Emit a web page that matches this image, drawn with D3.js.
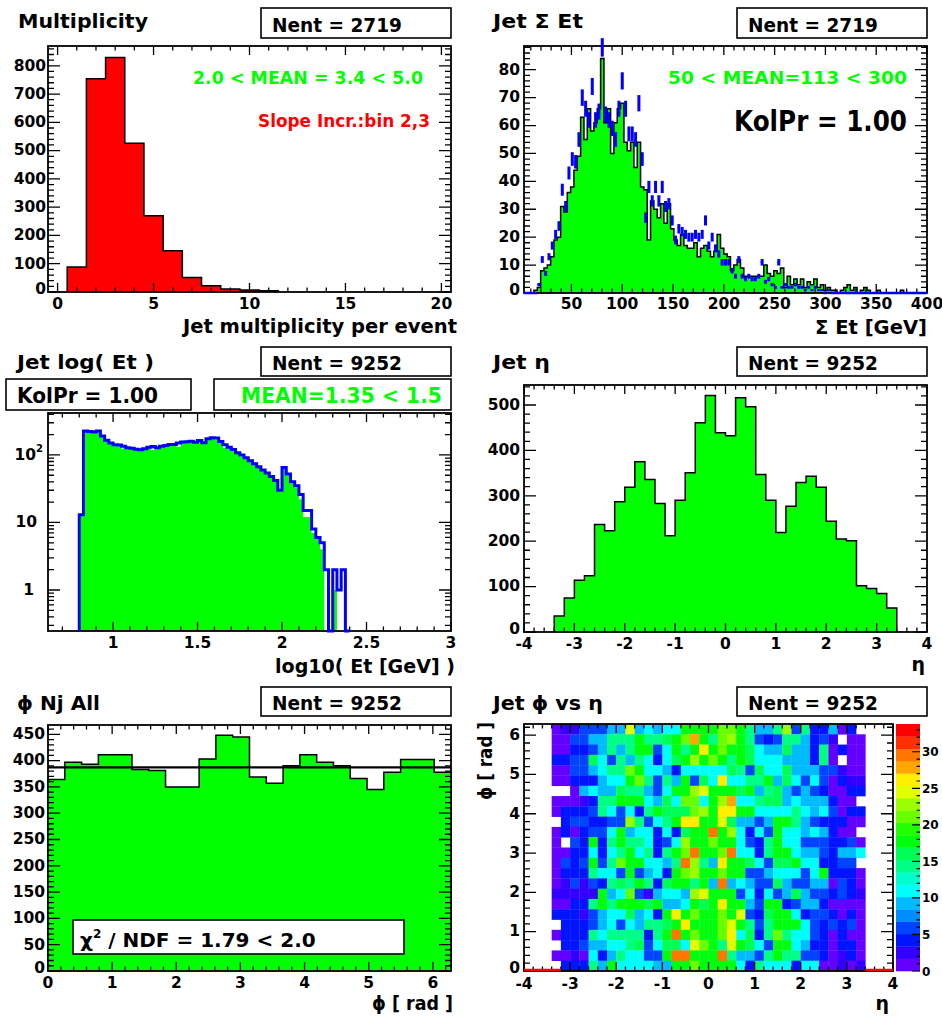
<!DOCTYPE html>
<html>
<head>
<meta charset="UTF-8">
<title>Jet monitoring histograms</title>
<style>
  body { margin: 0; background: #fff; }
  svg text { font-family: "DejaVu Sans", sans-serif; font-weight: bold; }
</style>
</head>
<body>
<script src="https://d3js.org/d3.v7.min.js"></script>
<script>
// ---- data ----

// jet multiplicity, one bin per integer 1..11
const multBins = [1, 2, 3, 4, 5, 6, 7, 8, 9, 10, 11];
const multCounts = [88, 754, 829, 526, 270, 146, 51, 22, 11, 7, 4];

// sum Et, 121 bins between 3.3 and 400 GeV
const etSumRange = [3.3, 400];
const etSumData = [
  0, 0, 0, 1, 2, 8, 9, 10, 13, 19,
  20, 31, 29, 36, 38, 44, 49, 63, 55, 66,
  58, 61, 66, 84, 61, 66, 50, 61, 66, 68,
  54, 51, 54, 45, 54, 38, 37, 19, 33, 30,
  27, 32, 25, 32, 23, 19, 17, 21, 17, 16,
  16, 18, 13, 16, 17, 15, 13, 15, 21, 16,
  14, 13, 8, 10, 12, 9, 6, 6, 6, 6,
  6, 6, 10, 7, 6, 8, 7, 9, 2, 6,
  3, 5, 3, 5, 2, 4, 3, 5, 2, 3,
  1, 2, 1, 1, 0, 1, 2, 3, 1, 2,
  0, 1, 2, 1, 0, 0, 1, 0, 0, 0,
  0, 0, 0, 1, 0, 0, 0, 0, 0, 0, 0
];
// reference (blue, drawn with errors)
const etSumRef = [
  0, 0, 0, 0, 3, 12, 7, 13, 17, 21,
  24, 37, 31, 43, 48, 47, 55, 70, 66, 62,
  74, 62, 65, 88, 64, 62, 59, 55, 66, 76,
  66, 57, 57, 55, 68, 48, 27, 38, 33, 38,
  33, 38, 31, 32, 26, 19, 23, 22, 21, 20,
  20, 21, 20, 21, 26, 17, 20, 16, 14, 11,
  11, 11, 8, 6, 12, 6, 5, 6, 5, 5,
  6, 11, 4, 5, 3, 2, 11, 2, 3, 2,
  2, 3, 2, 2, 1, 2, 1, 2, 1, 1,
  0, 1, 0, 0, 0, 0, 0, 0, 0, 0,
  0, 0, 0, 0, 0, 0, 0, 0, 0, 0,
  0, 0, 0, 0, 0, 0, 0, 0, 0, 0, 0
];
const refScale = 8; // reference normalised down by this factor

// log10(Et), bins of 0.025 starting at 0.8
const logEtStart = 0.8, logEtBinW = 0.025;
const logEtData = [
  13, 227, 222, 215, 227, 190, 160, 148, 141, 138,
  125, 122, 123, 119, 118, 122, 127, 118, 126, 131,
  135, 140, 140, 132, 152, 150, 155, 149, 158, 150,
  172, 178, 170, 155, 128, 128, 115, 104, 95, 88,
  80, 72, 65, 58, 52, 46, 40, 30, 63, 50,
  38, 33, 22, 12, 12, 7, 6, 4, 0, 0,
  1, 0, 0, 0
];
const logEtRef = [
  13, 227, 222, 218, 227, 190, 165, 150, 141, 140,
  135, 128, 126, 121, 119, 124, 130, 133, 128, 135,
  138, 143, 143, 150, 156, 157, 160, 154, 163, 152,
  174, 180, 178, 158, 142, 130, 120, 108, 100, 91,
  82, 74, 67, 60, 54, 48, 42, 30, 65, 52,
  40, 35, 26, 15, 15, 8, 6, 5, 2, 0,
  2, 1, 2, 0
];

// eta, bins of 0.2 from -3.4 to 3.4
const etaStart = -3.4, etaBinW = 0.2;
const etaCounts = [35, 75, 114, 124, 237, 223, 287, 319, 375, 336, 283, 212, 290, 351, 461, 521, 439,
  432, 516, 496, 347, 290, 219, 277, 329, 343, 319, 244, 205, 201, 102, 96, 85, 53];

// phi, 24 bins over 0..2pi, with the constant fit
const phiCounts = [364, 397, 393, 411, 411, 383, 381, 350, 350, 403, 448, 445,
  369, 357, 390, 411, 397, 390, 366, 345, 378, 402, 402, 378];
const phiFit = 387;

// phi vs eta: rows from the top phi bin (near 2pi) down to phi = 0,
// 34 eta columns from -3.4 to 3.4
const phiEtaMap = [
  [1,3,3,6,6,6,9,9,25,9,11,9,11,11,18,18,18, 18,21,21,18,14,9,9,14,23,6,14,5,5,9,1,5,0],
  [1,1,6,6,9,9,14,14,14,18,14,14,16,18,21,28,18, 14,21,23,18,14,6,5,6,14,14,9,5,6,3,0,1,1],
  [1,1,5,5,6,9,14,9,14,18,18,6,11,18,14,18,27, 18,21,18,18,16,11,9,9,16,9,9,5,14,1,5,1,1],
  [5,5,6,6,16,11,6,14,9,14,11,5,11,16,18,23,18, 21,18,14,18,16,11,11,11,9,9,9,5,14,1,0,1,1],
  [1,1,6,6,9,11,14,14,21,18,11,11,9,5,11,11,11, 11,11,16,14,6,16,11,11,16,9,9,9,6,6,3,1,1],
  [1,1,5,5,5,9,11,11,18,21,14,6,14,9,18,6,16, 11,27,11,11,14,14,18,9,16,11,6,11,6,1,5,3,3],
  [0,0,1,9,11,9,9,16,14,14,9,6,11,18,18,23,25, 18,18,18,16,18,9,14,16,9,6,9,6,5,1,1,5,5],
  [1,1,1,3,5,14,14,18,18,18,11,9,16,11,21,21,11, 18,23,28,11,11,14,16,16,9,11,9,9,9,5,1,1,0],
  [1,5,5,5,6,14,11,6,11,5,14,18,16,16,16,21,23, 18,26,26,18,18,11,11,11,11,14,11,9,11,6,1,5,5],
  [0,5,6,6,5,5,6,6,23,14,6,11,14,18,27,27,18, 18,25,16,9,9,6,9,18,18,14,9,6,5,5,5,1,1],
  [1,5,1,5,6,6,11,18,9,11,11,5,11,5,16,18,18, 29,18,23,11,5,11,6,18,11,11,9,11,9,5,1,1,0],
  [1,0,6,5,18,5,14,18,14,14,11,5,6,11,23,18,18, 21,18,18,11,6,5,14,18,11,11,6,6,6,5,5,6,1],
  [1,1,5,5,11,5,11,14,18,11,14,5,14,18,21,29,18, 18,21,30,11,11,5,14,18,18,11,9,9,6,5,9,9,11],
  [1,6,5,6,18,6,14,21,18,18,11,11,9,14,29,23,14, 9,27,18,18,16,11,6,16,16,18,11,11,5,5,6,6,0],
  [1,5,5,5,14,11,11,6,18,6,9,11,5,18,21,23,18, 18,21,18,18,6,6,9,11,11,11,6,11,18,5,5,5,1],
  [1,3,6,3,6,5,14,16,14,18,14,5,16,18,18,14,18, 9,29,9,11,9,6,6,16,9,6,6,9,9,1,6,5,1],
  [3,3,3,3,3,18,9,11,21,6,3,9,11,11,9,23,25, 18,18,18,6,11,5,11,6,9,16,9,6,6,5,6,5,3],
  [1,1,5,5,14,18,14,18,18,18,16,18,9,9,11,18,16, 18,27,18,18,9,6,18,18,5,6,9,9,5,1,1,1,1],
  [5,5,5,3,6,9,11,11,16,9,11,5,18,27,18,21,18, 18,21,18,25,6,5,16,18,18,11,5,6,6,5,1,5,1],
  [0,5,5,5,6,9,11,6,11,9,14,14,16,18,27,18,18, 18,21,25,18,14,6,14,18,18,18,11,6,5,6,5,6,1],
  [1,5,5,5,14,11,14,14,14,14,5,14,18,29,18,21,18, 18,21,26,11,16,5,14,21,14,11,11,6,5,1,5,1,1],
  [0,5,5,6,9,9,11,11,14,16,6,11,16,16,11,25,21, 18,14,25,18,16,11,6,18,18,11,9,5,5,1,5,5,1],
  [1,1,3,1,11,5,9,14,11,11,6,6,18,29,29,18,18, 18,30,14,9,9,6,14,18,14,14,6,6,5,1,3,5,1],
  [0,5,5,5,14,9,18,11,11,11,11,9,9,18,18,21,18, 18,18,18,11,5,14,11,11,11,5,11,11,1,1,3,1,3]
];
const zMax = 33.8;

// ---- drawing ----
const GREEN = "#00ff00", RED = "#ff0000", BLUE = "#0000ff";
const svg = d3.select("body").append("svg")
  .attr("width", 942).attr("height", 1017).style("display", "block");
svg.append("rect").attr("width", 942).attr("height", 1017).attr("fill", "#fff");

function txt(x, y, s, o) {
  o = o || {};
  const t = svg.append("text").attr("x", x).attr("y", y)
    .attr("font-size", o.size || 15.5)
    .attr("fill", o.color || "#000")
    .attr("text-anchor", o.anchor || "start")
    .text(s);
  if (o.width) t.attr("textLength", o.width).attr("lengthAdjust", "spacingAndGlyphs");
  if (o.rotate) t.attr("transform", "rotate(" + o.rotate + "," + x + "," + y + ")");
  return t;
}

function box(x, y, w, h) {
  svg.append("rect").attr("x", x).attr("y", y).attr("width", w).attr("height", h)
    .attr("fill", "#fff").attr("stroke", "#000").attr("stroke-width", 1.6);
}

function steps(lo, hi, step) {
  const out = [];
  for (let k = Math.ceil(lo / step - 1e-6); k * step <= hi + 1e-6; k++) out.push(+(k * step).toFixed(6));
  return out;
}

const fmt = v => String(+v.toFixed(3));

// frame with ticks on all four sides (ROOT style), plus numeric labels
function frame(xs, ys, o) {
  const [x0, x1] = xs.range(), [y0, y1] = ys.range();
  let d = "";
  const tx = (vals, len) => vals.forEach(v => {
    const x = xs(v);
    d += "M" + x + "," + y0 + "V" + (y0 - len) + "M" + x + "," + y1 + "V" + (y1 + len);
  });
  const ty = (vals, len) => vals.forEach(v => {
    const y = ys(v);
    d += "M" + x0 + "," + y + "H" + (x0 + len) + "M" + x1 + "," + y + "H" + (x1 - len);
  });
  tx(o.xMinor, 4.5); tx(o.xMajor, 9);
  ty(o.yMinor, 6); ty(o.yMajor, 12);
  svg.append("path").attr("d", d).attr("fill", "none").attr("stroke", "#000").attr("stroke-width", 1.3);
  svg.append("rect").attr("x", x0).attr("y", y1).attr("width", x1 - x0).attr("height", y0 - y1)
    .attr("fill", "none").attr("stroke", "#000").attr("stroke-width", 1.8);
  o.xMajor.forEach(v => txt(xs(v), o.xLabY, fmt(v), { anchor: "middle" }));
  if (!o.noYLabels) o.yMajor.forEach(v => {
    // the label at the lower corner is lifted a little so it clears the x labels
    const lift = v === ys.domain()[0] ? 2.5 : 0;
    txt(o.yLabX, ys(v) + 4.8 - lift, fmt(v), { anchor: "end" });
  });
}

// step histogram, bins of width w starting at lo
function hist(xs, ys, lo, w, vals, o) {
  const base = ys.domain()[0];
  const n = vals.length;
  const pts = [{ x: lo, y: base }]
    .concat(vals.map((v, i) => ({ x: lo + i * w, y: v })))
    .concat([{ x: lo + n * w, y: vals[n - 1] }, { x: lo + n * w, y: base }]);
  const py = d => ys(Math.max(d.y, base));
  if (o.fill) {
    svg.append("path")
      .attr("d", d3.area().x(d => xs(d.x)).y0(ys(base)).y1(py).curve(d3.curveStepAfter)(pts))
      .attr("fill", o.fill);
  }
  if (o.stroke) {
    svg.append("path")
      .attr("d", d3.line().x(d => xs(d.x)).y(py).curve(d3.curveStepAfter)(pts))
      .attr("fill", "none").attr("stroke", o.stroke).attr("stroke-width", o.sw || 1.5);
  }
}

function nent(x, y, h, n) {
  box(x, y, 190, h);
  txt(x + 11, y + h - 6, "Nent = " + n, { size: 19, width: 130 });
}

// ===== panel 1: multiplicity =====
{
  const xs = d3.scaleLinear([-0.5, 20.5], [48, 451]);
  const ys = d3.scaleLinear([0, 870], [292, 46]);
  hist(xs, ys, multBins[0] - 0.5, 1, multCounts, { fill: RED, stroke: "#000" });
  frame(xs, ys, {
    xMajor: steps(0, 20, 5), xMinor: steps(0, 20, 1),
    yMajor: steps(0, 800, 100), yMinor: steps(0, 860, 20),
    xLabY: 309, yLabX: 46
  });
  txt(18, 28, "Multiplicity", { size: 20, width: 130 });
  nent(261, 8, 30, 2719);
  txt(193, 84, "2.0 < MEAN = 3.4 < 5.0", { size: 17.5, width: 230, color: GREEN });
  txt(258, 127, "Slope Incr.:bin 2,3", { size: 17.5, width: 172, color: RED });
  txt(457, 333, "Jet multiplicity per event", { size: 19, width: 274, anchor: "end" });
}

// ===== panel 2: sum Et =====
{
  const xs = d3.scaleLinear(etSumRange, [524, 927]);
  const ys = d3.scaleLinear([0, 88.5], [293, 46]);
  const w = (etSumRange[1] - etSumRange[0]) / etSumData.length;
  hist(xs, ys, etSumRange[0], w, etSumData, { fill: GREEN, stroke: "#000" });
  frame(xs, ys, {
    xMajor: steps(50, 400, 50), xMinor: steps(10, 400, 10),
    yMajor: steps(0, 80, 10), yMinor: steps(0, 88, 2),
    xLabY: 309, yLabX: 520
  });
  // reference with error bars
  const g = svg.append("g").attr("fill", BLUE);
  etSumRef.forEach((v, i) => {
    const xa = xs(etSumRange[0] + i * w), xb = xs(etSumRange[0] + (i + 1) * w);
    if (v > 0) {
      const e = Math.sqrt(v / refScale);
      g.append("rect").attr("x", (xa + xb) / 2 - 1.5).attr("width", 3)
        .attr("y", ys(v + e)).attr("height", ys(v - e) - ys(v + e));
      if (v <= 12) {
        svg.append("line").attr("x1", xa).attr("x2", xb).attr("y1", ys(v)).attr("y2", ys(v))
          .attr("stroke", BLUE).attr("stroke-width", 1).attr("stroke-dasharray", "2,2");
      }
    } else {
      svg.append("line").attr("x1", xa).attr("x2", xb).attr("y1", ys(0)).attr("y2", ys(0))
        .attr("stroke", BLUE).attr("stroke-width", 2.5);
    }
  });
  txt(493, 28, "Jet \u03A3 Et", { size: 20, width: 90 });
  nent(737, 8, 30, 2719);
  txt(668, 84, "50 < MEAN=113 < 300", { size: 17.5, width: 239, color: GREEN });
  txt(734, 131, "KolPr = 1.00", { size: 28, width: 173 });
  txt(927, 334, "\u03A3 Et [GeV]", { size: 19, width: 112, anchor: "end" });
}

// ===== panel 3: log10 Et (log y) =====
{
  const xs = d3.scaleLinear([0.615, 3], [48, 451]);
  const ys = d3.scaleLog([0.247, 418], [631, 413]);
  hist(xs, ys, logEtStart, logEtBinW, logEtData, { fill: GREEN });
  const minors = [];
  [0.1, 1, 10, 100].forEach(dec => d3.range(2, 10).forEach(m => {
    const v = m * dec;
    if (v > 0.247 && v < 418) minors.push(v);
  }));
  frame(xs, ys, {
    xMajor: steps(1, 3, 0.5), xMinor: steps(0.7, 3, 0.1),
    yMajor: [1, 10, 100], yMinor: minors,
    xLabY: 648, noYLabels: true
  });
  hist(xs, ys, logEtStart, logEtBinW, logEtRef, { stroke: BLUE, sw: 3 });
  txt(43, ys(100) + 4.8, "10", { anchor: "end" })
    .append("tspan").attr("font-size", 10).attr("dy", -8).text("2");
  txt(37, ys(10) + 4.8, "10", { anchor: "end" });
  txt(34, ys(1) + 4.8, "1", { anchor: "end" });
  txt(17, 369, "Jet log( Et )", { size: 20, width: 137 });
  nent(261, 347, 29, 9252);
  box(6, 379, 185, 31);
  txt(17, 403, "KolPr = 1.00", { size: 22, width: 141 });
  box(214, 379, 237, 31);
  txt(241, 403, "MEAN=1.35 < 1.5", { size: 22, width: 201, color: GREEN });
  txt(455, 673, "log10( Et [GeV] )", { size: 19, width: 180, anchor: "end" });
}

// ===== panel 4: eta =====
{
  const xs = d3.scaleLinear([-4, 4], [524, 927]);
  const ys = d3.scaleLinear([0, 544], [632, 385]);
  hist(xs, ys, etaStart, etaBinW, etaCounts, { fill: GREEN, stroke: "#000" });
  frame(xs, ys, {
    xMajor: steps(-4, 4, 1), xMinor: steps(-4, 4, 0.2),
    yMajor: steps(0, 500, 100), yMinor: steps(0, 540, 20),
    xLabY: 649, yLabX: 520
  });
  txt(493, 369, "Jet \u03B7", { size: 20, width: 57 });
  nent(737, 347, 29, 9252);
  txt(925, 671, "\u03B7", { size: 19, anchor: "end" });
}

// ===== panel 5: phi with constant fit =====
{
  const xs = d3.scaleLinear([0, 2 * Math.PI], [48, 451]);
  const ys = d3.scaleLinear([0, 467.7], [971, 725]);
  hist(xs, ys, 0, 2 * Math.PI / phiCounts.length, phiCounts, { fill: GREEN, stroke: "#000" });
  svg.append("line").attr("x1", xs(0)).attr("x2", xs(2 * Math.PI))
    .attr("y1", ys(phiFit)).attr("y2", ys(phiFit)).attr("stroke", "#000").attr("stroke-width", 2.2);
  frame(xs, ys, {
    xMajor: steps(0, 6, 1), xMinor: steps(0, 6.28, 0.2),
    yMajor: steps(0, 450, 50), yMinor: steps(0, 460, 10),
    xLabY: 988, yLabX: 45
  });
  txt(17, 710, "\u03D5 Nj All", { size: 20, width: 83 });
  nent(261, 687, 29, 9252);
  box(73, 920, 331, 34);
  const t = txt(80, 947, "\u03C7", { size: 20 });
  t.append("tspan").attr("font-size", 12).attr("dy", -9).text("2");
  t.append("tspan").attr("dy", 9).text(" / NDF = 1.79 < 2.0");
  txt(453, 1010, "\u03D5 [ rad ]", { size: 19, width: 81, anchor: "end" });
}

// ===== panel 6: phi vs eta (colz) =====
{
  const xs = d3.scaleLinear([-4, 4], [524, 893]);
  const ys = d3.scaleLinear([0, 2 * Math.PI], [971, 724]);
  const nPhi = phiEtaMap.length, phiW = 2 * Math.PI / nPhi;
  // ROOT pretty palette: 50 HLS colours, 20 contour levels
  const nLevels = 20, nColors = 50;
  const levelColors = d3.range(nLevels).map(k => {
    const idx = Math.floor((k + 0.99) * nColors / nLevels);
    return d3.hsl(280 - (idx + 1) * 280 / nColors, 1, 0.5).formatHex();
  });
  const zColor = d3.scaleQuantize().domain([0, zMax]).range(levelColors);

  const cells = [];
  phiEtaMap.forEach((row, ri) => row.forEach((z, k) => {
    if (z > 0) cells.push({ r: nPhi - 1 - ri, k: k, z: z });
  }));
  svg.append("g").selectAll("rect").data(cells).join("rect")
    .attr("x", d => xs(etaStart + d.k * etaBinW))
    .attr("width", d => xs(etaStart + (d.k + 1) * etaBinW) - xs(etaStart + d.k * etaBinW) + 0.3)
    .attr("y", d => ys((d.r + 1) * phiW))
    .attr("height", d => ys(d.r * phiW) - ys((d.r + 1) * phiW) + 0.3)
    .attr("fill", d => zColor(d.z));

  frame(xs, ys, {
    xMajor: steps(-4, 4, 1), xMinor: steps(-4, 4, 0.2),
    yMajor: steps(0, 6, 1), yMinor: steps(0, 6.2, 0.2),
    xLabY: 989, yLabX: 520
  });

  // red base line where the lowest phi row is empty
  const bottomRow = phiEtaMap[nPhi - 1];
  d3.range(40).forEach(j => {
    const lo = -4 + j * etaBinW;
    const k = Math.round((lo - etaStart) / etaBinW);
    const z = (k >= 0 && k < bottomRow.length) ? bottomRow[k] : 0;
    if (z === 0) {
      svg.append("line").attr("x1", xs(lo)).attr("x2", xs(lo + etaBinW))
        .attr("y1", 970).attr("y2", 970).attr("stroke", RED).attr("stroke-width", 2.5);
    }
  });

  // colour bar
  const zs = d3.scaleLinear([0, zMax], [971, 724]);
  const cb = svg.append("g");
  cb.selectAll("rect").data(levelColors).join("rect")
    .attr("x", 896).attr("width", 24)
    .attr("y", (c, k) => zs((k + 1) * zMax / nLevels))
    .attr("height", zs(0) - zs(zMax / nLevels) + 0.3)
    .attr("fill", c => c);
  let d = "";
  steps(0, 33, 1).forEach(v => { d += "M920," + zs(v) + "h-3.5"; });
  steps(0, 30, 5).forEach(v => { d += "M920," + zs(v) + "h-8"; });
  svg.append("path").attr("d", d).attr("stroke", "#000").attr("stroke-width", 1.2);
  steps(0, 30, 5).forEach(v => txt(922, zs(v) + 4.5, fmt(v), { size: 12 }));

  txt(493, 710, "Jet \u03D5 vs \u03B7", { size: 20, width: 110 });
  nent(737, 687, 29, 9252);
  txt(492, 722, "\u03D5 [ rad ]", { size: 19, width: 78, anchor: "end", rotate: -90 });
  txt(889, 1010, "\u03B7", { size: 19, anchor: "end" });
}
</script>
</body>
</html>
